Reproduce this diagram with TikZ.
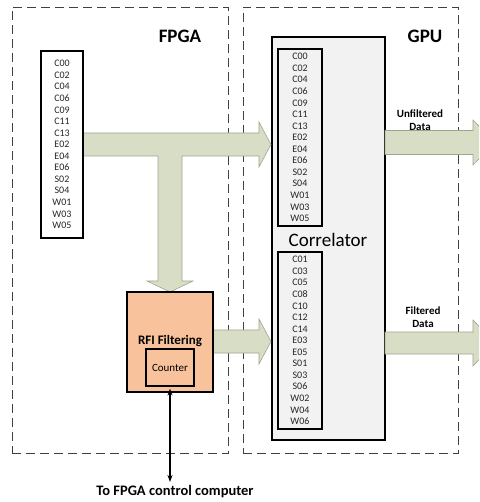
\documentclass[tikz,border=0pt]{standalone}
\usepackage{fontspec}
\setmainfont{Carlito}
\usetikzlibrary{arrows.meta}
\begin{document}
\begin{tikzpicture}[x=1pt,y=-1pt,
  region/.style={draw=black!75,dash pattern=on 9pt off 5pt,line width=0.8pt},
  listbox/.style={draw=black,line width=1.2pt,inner sep=0pt,align=center,
    font=\fontsize{10}{11.55}\selectfont,text=black!85},
  blockarrow/.style={fill=arrowfill,draw=arrowline,line width=0.6pt},
  title/.style={font=\fontsize{19}{22}\selectfont\bfseries},
  lbl/.style={font=\fontsize{11}{13.5}\selectfont\bfseries,align=center}
]
\definecolor{arrowfill}{HTML}{D8DDC6}
\definecolor{arrowline}{HTML}{9EA58E}
\definecolor{rfifill}{HTML}{F8C39C}
\definecolor{corrfill}{HTML}{F2F2F2}
\useasboundingbox (0,0) rectangle (479,502);
\clip (0,0) rectangle (479,502);

% regions
\node[region,minimum width=216pt,minimum height=446pt,inner sep=0pt] (fpga) at (120,230.5) {};
\node[region,minimum width=215pt,minimum height=446pt,inner sep=0pt] (gpu) at (350.5,230.5) {};
\node[title] (fpgat) at (180,36) {FPGA};
\node[title] (gput) at (425,36) {GPU};

% correlator
\node[draw=black,fill=corrfill,line width=1.2pt,minimum width=113pt,minimum height=403pt,inner sep=0pt] (corr) at (328.5,238.5) {};
\node[font=\fontsize{19}{22}\selectfont] (corrt) at (328,240) {Correlator};

% arrows
\path[blockarrow] (83,133) -- (259,133) -- (259,122) -- (271,144.5) -- (259,167) -- (259,156)
  -- (182,156) -- (182,281) -- (193,281) -- (170,292) -- (147,281) -- (158,281) -- (158,156)
  -- (83,156) -- cycle;
\path[blockarrow] (213,330) -- (259,330) -- (259,319) -- (271,341.5) -- (259,364) -- (259,353) -- (213,353) -- cycle;
\path[blockarrow] (385,130.5) -- (473,130.5) -- (473,120) -- (495,142.5) -- (473,165) -- (473,154.5) -- (385,154.5) -- cycle;
\path[blockarrow] (385,332) -- (473,332) -- (473,320) -- (495,343) -- (473,366) -- (473,354) -- (385,354) -- cycle;

% lists
\node[listbox,minimum width=42pt,minimum height=187pt] (inlist) at (62,144.5)
  {C00\\C02\\C04\\C06\\C09\\C11\\C13\\E02\\E04\\E06\\S02\\S04\\W01\\W03\\W05};
\node[listbox,minimum width=44pt,minimum height=177pt] (unflist) at (300,137.5)
  {C00\\C02\\C04\\C06\\C09\\C11\\C13\\E02\\E04\\E06\\S02\\S04\\W01\\W03\\W05};
\node[listbox,minimum width=44pt,minimum height=177pt] (flist) at (300,340.5)
  {C01\\C03\\C05\\C08\\C10\\C12\\C14\\E03\\E05\\S01\\S03\\S06\\W02\\W04\\W06};

% RFI filtering
\node[draw=black,fill=rfifill,line width=1.2pt,minimum width=86pt,minimum height=100pt,inner sep=0pt] (rfi) at (170,342) {};
\node[font=\fontsize{13}{15}\selectfont\bfseries] (rfit) at (170,341) {RFI Filtering};
\node[draw=black,line width=1.2pt,minimum width=48pt,minimum height=37pt,inner sep=0pt,font=\fontsize{11}{13}\selectfont] (counter) at (170,367.5) {Counter};

% labels
\node[lbl] (unft) at (420,120) {Unfiltered\\Data};
\node[lbl] (ft) at (423,317) {Filtered\\Data};

% control link
\coordinate (ctrl) at (170,482);
\coordinate (cs) at ([yshift=-2pt]counter.south);
\draw[line width=1.2pt,{Stealth[length=7pt,width=5pt]}-{Stealth[length=7pt,width=5pt]}] (cs) -- (ctrl);
\node[font=\fontsize{14.5}{17}\selectfont\bfseries] (ctrlt) at (175,492) {To FPGA control computer};
\end{tikzpicture}
\end{document}
